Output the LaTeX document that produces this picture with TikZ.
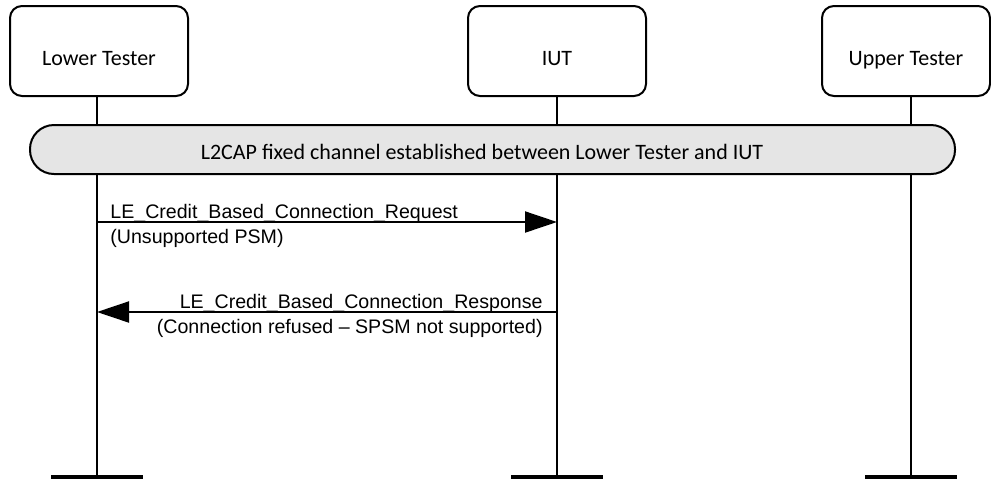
\documentclass[tikz,border=0pt]{standalone}
\usepackage{fontspec}
\usepackage{tikz}
\usetikzlibrary{arrows.meta, positioning}
\newfontfamily\carlito{Carlito}
\newfontfamily\libsans{Liberation Sans}

\begin{document}
\begin{tikzpicture}[
  x=0.5pt, y=-0.5pt,
  box/.style={draw, rounded corners=6pt, fill=white, line width=1pt,
              minimum width=89pt, minimum height=45pt,
              font=\fontsize{11}{13}\carlito, text height=14pt, text depth=0pt},
  pill/.style={draw, rounded corners=12pt, fill=black!10, line width=1pt,
               minimum width=462.5pt, minimum height=24.5pt},
  pilltext/.style={inner sep=0pt, font=\fontsize{11}{13}\carlito,
                   text height=9pt, text depth=0pt},
  life/.style={line width=1pt},
  endbar/.style={line width=2.5pt},
  msg/.style={-{Triangle[length=16pt, width=10.5pt]}, line width=1pt},
  lbl/.style={inner sep=0pt, font=\fontsize{9.8}{11}\libsans},
]
\useasboundingbox (0,0) rectangle (991,478);

\node[box]                       (lt)  at (99,51)  {Lower Tester};
\node[box]                       (iut) at (557,51) {IUT};
\node[box, minimum width=84pt]   (ut)  at (906,51) {Upper Tester};

\coordinate (lt-bot)  at (97,477);
\coordinate (iut-bot) at (557,477);
\coordinate (ut-bot)  at (911,477);

\draw[life] (lt.south -| lt-bot)   -- (lt-bot);
\draw[life] (iut.south -| iut-bot) -- (iut-bot);
\draw[life] (ut.south -| ut-bot)   -- (ut-bot);

\foreach \n in {lt,iut,ut}
  \draw[endbar] ([xshift=-23pt]\n-bot) -- ([xshift=23pt]\n-bot);

\node[pill] (fixed) at (492.5,149.5) {};
\node[pilltext] (fixed-text) at (482,150.5)
  {L2CAP fixed channel established between Lower Tester and IUT};

\coordinate (req-from) at (97,222);
\coordinate (req-to)   at (557,222);
\coordinate (rsp-from) at (557,312);
\coordinate (rsp-to)   at (97,312);

\draw[msg] (req-from) -- (req-to);
\draw[msg] (rsp-from) -- (rsp-to);

\node[lbl, anchor=base west] (req-name) at (110,218) {LE\_Credit\_Based\_Connection\_Request};
\node[lbl, anchor=base west] (req-arg)  at (110,243) {(Unsupported PSM)};
\node[lbl, anchor=base east] (rsp-name) at (543,308) {LE\_Credit\_Based\_Connection\_Response};
\node[lbl, anchor=base east] (rsp-arg)  at (543,333) {(Connection refused – SPSM not supported)};
\end{tikzpicture}
\end{document}
